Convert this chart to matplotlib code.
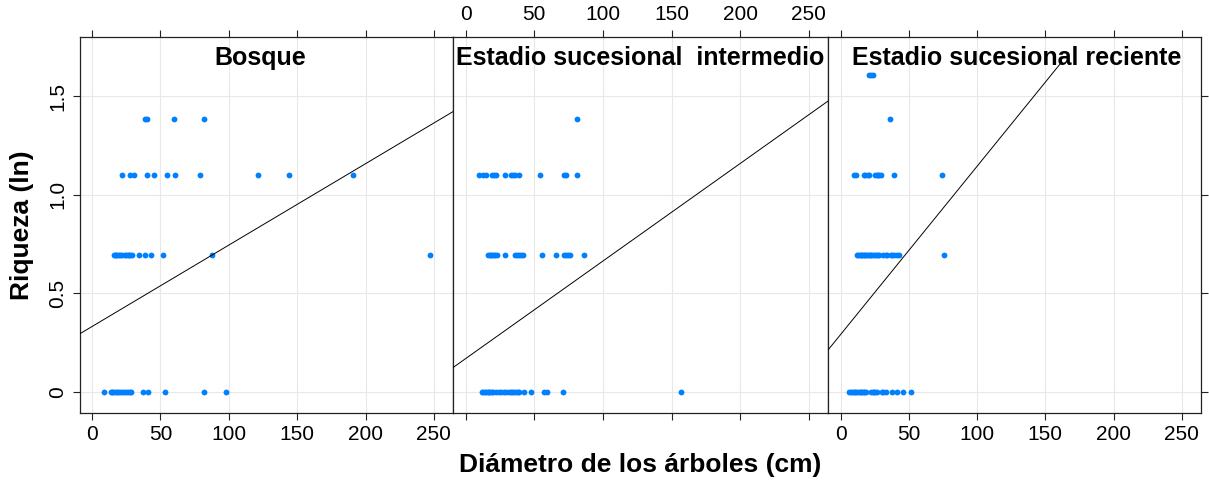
import numpy as np
from matplotlib import pyplot as plt

plt.rcParams['font.family'] = ['Liberation Sans', 'DejaVu Sans']

LN2, LN3, LN4, LN5 = np.log(2), np.log(3), np.log(4), np.log(5)

panel_titles = ["Bosque", "Estadio sucesional  intermedio", "Estadio sucesional reciente"]

# diameters (cm) grouped by richness level
bosque = {
    LN4: [39, 40, 60, 82],
    LN3: [22, 28, 31, 40, 45, 55, 61, 79, 121, 144, 191],
    LN2: [16, 16.5, 17.5, 18.5, 19.5, 20.5, 22, 24, 25, 26, 27, 28, 29,
          34, 39, 43, 52, 88, 247],
    0.0: [9, 13.5, 14.5, 15.5, 16.5, 18, 19, 20.5, 22, 23.5, 25, 26, 27.5,
          28.5, 37, 41, 53.5, 82, 98],
}
intermedio = {
    LN4: [81],
    LN3: [10, 13, 14.5, 19, 20.5, 22, 29, 33, 34.5, 36, 39, 54, 72, 73, 81],
    LN2: [16.5, 17.5, 18.5, 19.5, 20.5, 21.5, 22.5, 29, 36, 37.5, 39, 40,
          41.5, 56, 66, 72, 73, 74.5, 76, 86],
    0.0: [12, 13, 14, 15, 16, 17, 18, 19, 20, 22, 24.5, 25.5, 28, 29.5, 31.5,
          33, 34, 35.5, 36.5, 38, 39, 42.5, 47.5, 57, 59, 71, 157],
}
reciente = {
    LN5: [20.5, 22, 23.5],
    LN4: [36],
    LN3: [10, 11.5, 17, 18, 20, 21, 25.5, 26.5, 27.5, 28.5, 29.5, 39, 74.5],
    LN2: [12, 13, 14, 15, 16, 17, 17.5, 18.5, 19.5, 20.5, 21.5, 22.5, 23.5,
          25, 26, 27.5, 28.5, 31, 33, 34, 37, 38, 39.5, 41, 42.5, 76],
    0.0: [6.5, 7.5, 8.5, 9.5, 10.5, 11.5, 13, 14, 15, 16, 17, 17.5, 18.5,
          22.5, 23.5, 24.5, 25.5, 26.5, 30, 31, 33, 38, 41, 45.5, 51.5],
}
panel_data = [bosque, intermedio, reciente]

# fitted lines: intercept, slope, and x where the drawn line stops
fit_intercept = [0.331, 0.168, 0.290]
fit_slope = [0.00413, 0.00495, 0.00854]
fit_xmax = [264, 264, 161]

x_ticks = [0, 50, 100, 150, 200, 250]
y_ticks = [0, 0.5, 1.0, 1.5]
y_ticklabels = ["0", "0.5", "1.0", "1.5"]

fig = plt.figure(figsize=(12.09, 4.82), dpi=100)
W, H = 1209.0, 482.0
lefts = [79.5, 453, 828]
rights = [453, 828, 1201]
top, bottom = 37, 413
xlim = (-9.2, 264)
ylim = (-0.108, 1.80)
title_x = [0.484, 0.5, 0.505]

for i in range(3):
    ax = fig.add_axes([lefts[i] / W, 1 - bottom / H,
                       (rights[i] - lefts[i]) / W, (bottom - top) / H])
    ax.set_xlim(*xlim)
    ax.set_ylim(*ylim)
    ax.set_xticks(x_ticks)
    ax.set_yticks(y_ticks)
    ax.grid(True, color='#e8e8e8', lw=0.8)
    ax.set_axisbelow(True)
    for sp in ax.spines.values():
        sp.set_linewidth(0.9)
        sp.set_color('#222222')

    for yv, xs in panel_data[i].items():
        ax.plot(xs, [yv] * len(xs), 'o', color='#0080ff', ms=4.2, mew=0,
                zorder=3)

    xx = np.array([xlim[0], fit_xmax[i]])
    ax.plot(xx, fit_intercept[i] + fit_slope[i] * xx, color='black', lw=0.7,
            zorder=4)

    ax.text(title_x[i], 0.945, panel_titles[i], transform=ax.transAxes,
            ha='center', va='center', fontsize=18, fontweight='bold',
            zorder=5)

    ax.tick_params(axis='both', direction='out', length=5, width=0.8,
                   colors='#222222', labelsize=15, labelcolor='black')
    ax.tick_params(axis='x', top=True, bottom=True,
                   labelbottom=(i != 1), labeltop=(i == 1), pad=4)
    ax.tick_params(axis='y', left=(i == 0), right=(i == 2),
                   labelleft=(i == 0), labelright=False, pad=4)
    if i == 0:
        ax.set_yticklabels(y_ticklabels, rotation=90, va='center')

fig.text(22 / W, 1 - 225 / H, "Riqueza (ln)", rotation=90, ha='center',
         va='center', fontsize=19, fontweight='bold')
fig.text(640 / W, 1 - 465 / H, "Diámetro de los árboles (cm)", ha='center',
         va='center', fontsize=19, fontweight='bold')

fig.savefig('out.png', dpi=100)
